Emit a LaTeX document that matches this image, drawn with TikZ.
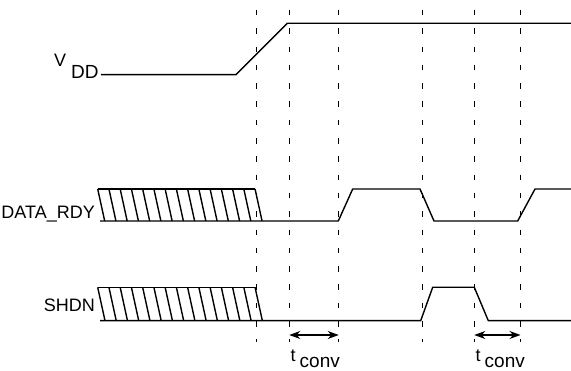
\documentclass[tikz,border=0pt]{standalone}
\usepackage{fontspec}
\setmainfont{Liberation Sans}
\usetikzlibrary{arrows.meta}

\begin{document}
\begin{tikzpicture}[x=1pt,y=-1pt,
    sig/.style={line width=1.4pt, line join=round},
    guide/.style={line width=0.8pt, dash pattern=on 5.5pt off 12.8pt},
    hatchline/.style={line width=1.4pt},
    span/.style={line width=1.1pt, {Stealth[length=11pt,width=8pt]}-{Stealth[length=11pt,width=8pt]}},
    lbl/.style={inner sep=0pt, font=\fontsize{18}{20}\selectfont},
    sublbl/.style={inner sep=0pt, font=\fontsize{19}{21}\selectfont}]
  \useasboundingbox (0,0) rectangle (571,371);

  % Guides
  \foreach \x [count=\i] in {256.5,289.3,338.7,422.2,474.3,520.5} {
    \coordinate (g\i) at (\x,0);
    \draw[guide] (\x,10) -- (\x,342);
  }

  % VDD
  \node[lbl, anchor=base west] (vdd) at (54,67) {V};
  \node[sublbl, anchor=base west] (vddsub) at (71,78.5) {DD};
  \draw[sig] (101,74.7) -- (236,74.7) -- (287.3,23.3) -- (571,23.3);

  % DATA_RDY
  \node[lbl, anchor=base east] (rdy) at (95,219) {DATA\_RDY};
  \foreach \i in {0,...,14} {
    \draw[hatchline] ({97.7+11.24*\i},189) -- ++(7,32);
  }
  \draw[sig] (97.7,189) -- (255,189);
  \draw[sig] (100,221) -- (338.3,221) -- (352.7,189) -- (420,189) -- (434,221)
    -- (517.7,221) -- (535,189) -- (571,189);

  % SHDN
  \node[lbl, anchor=base east] (shdn) at (95,311.7) {SHDN};
  \foreach \i in {0,...,14} {
    \draw[hatchline] ({97.7+11.24*\i},287.3) -- ++(7.3,33.4);
  }
  \draw[sig] (97.7,287.3) -- (255,287.3);
  \draw[sig] (100,320.7) -- (420.7,320.7) -- (432.7,287.3) -- (474.3,287.3)
    -- (488.3,320.7) -- (571,320.7);

  % t_conv
  \coordinate (a1) at (g2 |- 0,335);
  \coordinate (b1) at (g3 |- 0,335);
  \coordinate (a2) at (g5 |- 0,335);
  \coordinate (b2) at (g6 |- 0,335);
  \draw[span] (a1) -- (b1);
  \draw[span] (a2) -- (b2);
  \node[lbl, anchor=base west] (t1) at (290.5,362) {t};
  \node[sublbl, anchor=base west] (conv1) at (299.5,367.5) {conv};
  \node[lbl, anchor=base west] (t2) at (475.5,362) {t};
  \node[sublbl, anchor=base west] (conv2) at (484.5,367.5) {conv};
\end{tikzpicture}
\end{document}
